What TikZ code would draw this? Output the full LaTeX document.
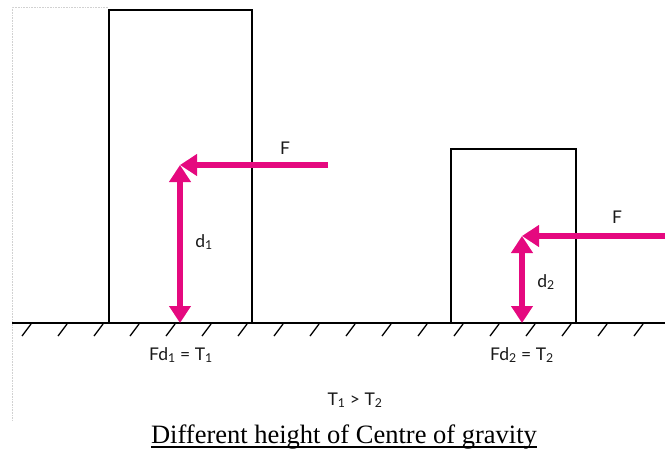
\documentclass[tikz,border=0pt]{standalone}
\usepackage{fontspec}
\setmainfont{Liberation Serif}
\newfontfamily\labelfont{Lato}
\usepackage{xcolor}
\usepackage{tikz}
\usetikzlibrary{arrows.meta}

\definecolor{forcepink}{HTML}{E5097F}

\begin{document}
\begin{tikzpicture}[
  x=1pt, y=-1pt,
  block/.style={draw, line width=1.8pt},
  ground/.style={draw, line width=1.8pt},
  hatch/.style={draw, line width=1.3pt},
  force/.style={draw=forcepink, line width=5.5pt,
                -{Triangle[length=17pt,width=21pt]}},
  twoway/.style={force, {Triangle[length=17pt,width=21pt]}-{Triangle[length=17pt,width=21pt]}},
  lab/.style={font=\labelfont\fontsize{17.5}{20}\selectfont, text=black!90,
              inner sep=0pt, anchor=base},
  frame/.style={draw=black!18, densely dotted, line width=0.6pt}
]
\useasboundingbox (0,0) rectangle (665,453);

% faint frame of the scan
\draw[frame] (108,7) -- (12,7) -- (12,420);

% ground with hatching
\coordinate (gl) at (12,323);
\coordinate (gr) at (665,323);
\foreach \x in {22,58,...,634}
  \draw[hatch] (\x+9,324) -- (\x,336);
\draw[ground] (gl) -- (gr);

% the two blocks
\draw[block] (109,323) -- (109,10) -- (252,10) -- (252,323);
\draw[block] (451,323) -- (451,149) -- (576,149) -- (576,323);

% tall block
\coordinate (base1) at (180,323);
\coordinate (cg1) at (180,165);
\coordinate (push1) at (328,165);
\draw[force] (push1) -- (cg1);
\draw[twoway] (base1) -- (cg1);
\node[lab] (f1) at (285,154) {F};
\node[lab] (d1) at (204,247) {d\textsubscript{1}};

% short block
\coordinate (base2) at (522,323);
\coordinate (cg2) at (522,236);
\coordinate (push2) at (665,236);
\draw[force] (push2) -- (cg2);
\draw[twoway] (base2) -- (cg2);
\node[lab] (f2) at (617,223) {F};
\node[lab] (d2) at (546,287) {d\textsubscript{2}};

% moments
\node[lab] (t1) at (181,360) {Fd\textsubscript{1} = T\textsubscript{1}};
\node[lab] (t2) at (522,360) {Fd\textsubscript{2} = T\textsubscript{2}};
\node[lab] (cmp) at (355,405) {T\textsubscript{1} > T\textsubscript{2}};

\node[font=\fontsize{26.5}{30}\selectfont, inner sep=0pt, anchor=base] (title)
  at (344,443) {Different height of Centre of gravity};
\draw[line width=1.8pt] ([yshift=-4pt]title.base west) -- ([yshift=-4pt]title.base east);
\end{tikzpicture}
\end{document}
